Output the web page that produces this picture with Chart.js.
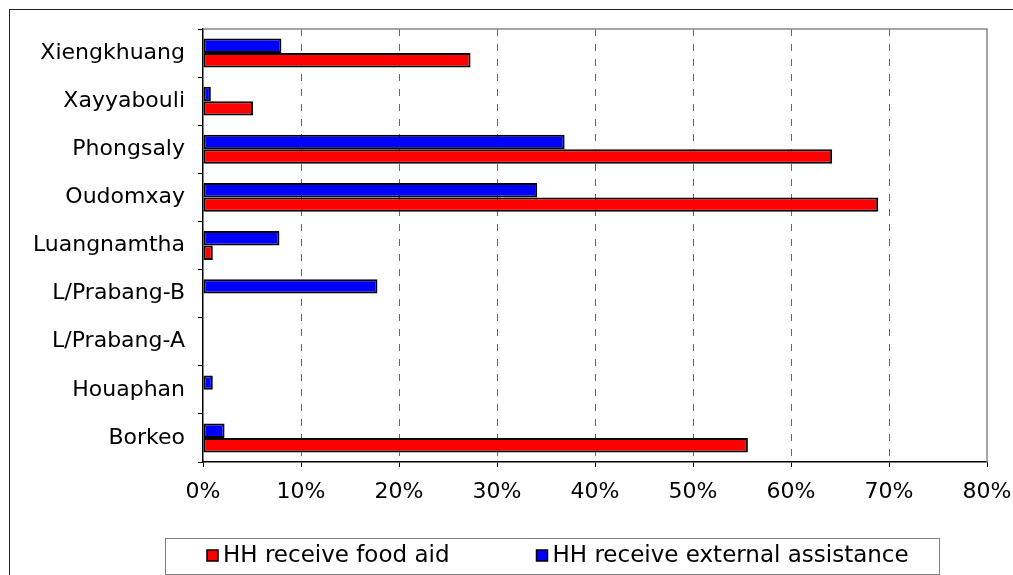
<!DOCTYPE html>
<html>
<head>
<meta charset="utf-8">
<title>Households receiving food aid and external assistance</title>
<script src="https://cdn.jsdelivr.net/npm/chart.js@4/dist/chart.umd.min.js"></script>
<style>
  html, body { margin: 0; padding: 0; background: #fff; }
  #wrap { position: relative; width: 1013px; height: 575px; }
</style>
</head>
<body>
<div id="wrap"><canvas id="aidChart"></canvas></div>
<script>
// Share of households (%) per province, listed top to bottom
const provinces = ['Xiengkhuang', 'Xayyabouli', 'Phongsaly', 'Oudomxay', 'Luangnamtha',
                   'L/Prabang-B', 'L/Prabang-A', 'Houaphan', 'Borkeo'];
const externalAssistance = [8.0, 0.8, 36.9, 34.1, 7.8, 17.8, 0, 1.0, 2.2];
const foodAid = [27.3, 5.1, 64.2, 68.9, 1.0, 0, 0, 0, 55.6];
const pctTicks = [0, 10, 20, 30, 40, 50, 60, 70, 80];

const FONT = 'Verdana, "DejaVu Sans", sans-serif';

// outer chart frame and the grey top/right edge of the plot area
const framePlugin = {
    id: 'frame',
    beforeDraw(chart) {
        const ctx = chart.ctx;
        ctx.save();
        ctx.strokeStyle = '#222';
        ctx.lineWidth = 1;
        ctx.strokeRect(9.5, 9.5, chart.width + 20, chart.height + 20);
        ctx.restore();
    },
    beforeDatasetsDraw(chart) {
        const a = chart.chartArea, ctx = chart.ctx;
        ctx.save();
        ctx.strokeStyle = '#888';
        ctx.lineWidth = 1.5;
        ctx.beginPath();
        ctx.moveTo(a.left, a.top);
        ctx.lineTo(a.right, a.top);
        ctx.lineTo(a.right, a.bottom);
        ctx.stroke();
        ctx.restore();
    }
};

// boxed legend under the axis, food aid first
const boxLegend = {
    id: 'boxLegend',
    afterDraw(chart) {
        const ctx = chart.ctx;
        const items = chart.data.datasets.slice().reverse();
        const y = 556;
        let x = 207;
        ctx.save();
        ctx.strokeStyle = '#808080';
        ctx.lineWidth = 1;
        ctx.strokeRect(165.5, 538.5, 774, 36);
        ctx.font = '23px ' + FONT;
        ctx.textBaseline = 'middle';
        items.forEach(ds => {
            ctx.fillStyle = ds.backgroundColor;
            ctx.fillRect(x, y - 6, 11, 11);
            ctx.strokeStyle = '#000';
            ctx.lineWidth = 1.5;
            ctx.strokeRect(x, y - 6, 11, 11);
            ctx.fillStyle = '#000';
            ctx.fillText(ds.label, x + 16, y);
            x += 16 + ctx.measureText(ds.label).width + 87;
        });
        ctx.restore();
    }
};

new Chart(document.getElementById('aidChart'), {
    type: 'bar',
    data: {
        labels: provinces,
        datasets: [
            { label: 'HH receive external assistance', data: externalAssistance, backgroundColor: '#0000FF' },
            { label: 'HH receive food aid', data: foodAid, backgroundColor: '#FF0000' }
        ]
    },
    options: {
        indexAxis: 'y',
        responsive: true,
        maintainAspectRatio: false,
        animation: false,
        layout: { padding: { top: 29, right: 26, bottom: 0, left: 0 } },
        datasets: {
            bar: {
                categoryPercentage: 0.6,
                barPercentage: 1,
                borderColor: '#000',
                borderWidth: 2,
                borderSkipped: false,
                inflateAmount: 0
            }
        },
        plugins: { legend: { display: false }, tooltip: { enabled: false } },
        scales: {
            x: {
                min: 0,
                max: 80,
                afterBuildTicks: s => { s.ticks = pctTicks.map(v => ({ value: v })); },
                afterFit: s => { s.height = 113; s.paddingLeft = 0; s.paddingRight = 0; },
                ticks: {
                    callback: v => v + '%',
                    color: '#000',
                    font: { size: 22, family: FONT },
                    padding: 12,
                    maxRotation: 0,
                    autoSkip: false
                },
                grid: {
                    color: c => (c.tick && (c.tick.value === 0 || c.tick.value === 80)) ? 'rgba(0,0,0,0)' : '#666',
                    tickColor: '#000',
                    tickLength: 5
                },
                border: {
                    display: true,
                    color: '#000',
                    width: 1.5,
                    dash: c => c.type === 'tick' ? [7, 8] : []
                }
            },
            y: {
                afterFit: s => { s.width = 203; s.paddingTop = 0; s.paddingBottom = 0; },
                ticks: { color: '#000', font: { size: 22, family: FONT }, padding: 13, autoSkip: false },
                grid: { drawOnChartArea: false, tickLength: 5, tickColor: '#000', offset: true },
                border: { display: true, color: '#000', width: 1.5 }
            }
        }
    },
    plugins: [framePlugin, boxLegend]
});
</script>
</body>
</html>
